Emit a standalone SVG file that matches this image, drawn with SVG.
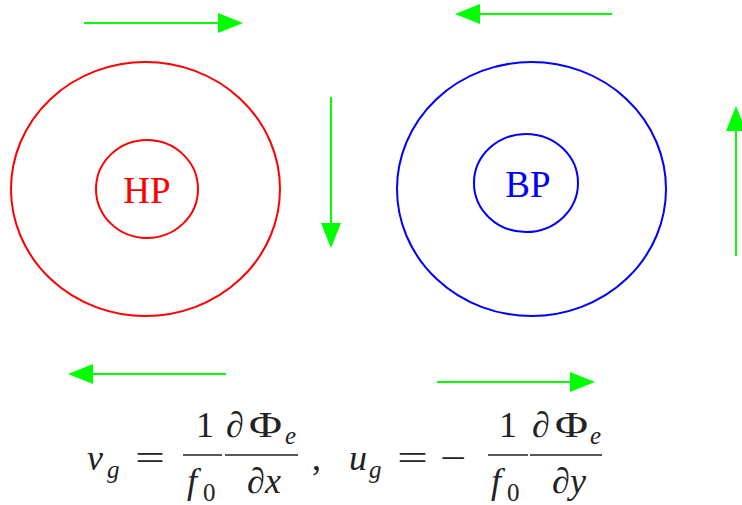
<svg xmlns="http://www.w3.org/2000/svg" width="742" height="505" viewBox="0 0 742 505">
<style>
.arr{stroke:#00ff00;stroke-width:2;fill:none;marker-end:url(#ah)}
.red{stroke:#ff0000;stroke-width:2;fill:none}
.blue{stroke:#0000ff;stroke-width:2;fill:none}
.lbl{font-family:"Liberation Serif",serif;font-size:37px;text-anchor:middle}
.m{font-family:"Liberation Serif",serif;font-size:36px;fill:#222}
.i{font-style:italic}
.s{font-size:25px}
.bar{stroke:#222;stroke-width:1.3}
</style>
<defs>
<marker id="ah" viewBox="0 -10 25 20" refX="0" refY="0" markerWidth="25" markerHeight="20" markerUnits="userSpaceOnUse" orient="auto">
<path d="M0,-10 L25,0 L0,10 z" fill="#00ff00"/>
</marker>
</defs>
<g id="HP">
<ellipse class="red" cx="145.5" cy="189" rx="134.5" ry="127"/>
<ellipse class="red" cx="147" cy="189" rx="51" ry="49"/>
<text class="lbl" x="147" y="203" fill="#ff0000">HP</text>
</g>
<g id="BP">
<ellipse class="blue" cx="531.5" cy="189" rx="134.5" ry="127"/>
<ellipse class="blue" cx="526" cy="183" rx="52" ry="49"/>
<text class="lbl" x="528" y="197" fill="#0000ff">BP</text>
</g>
<g id="connectors">
<line class="arr" x1="84" y1="23" x2="218" y2="23"/>
<line class="arr" x1="612" y1="14" x2="480" y2="14"/>
<line class="arr" x1="331" y1="97" x2="331" y2="223"/>
<line class="arr" x1="736" y1="256" x2="736" y2="131"/>
<line class="arr" x1="226" y1="374" x2="93" y2="374"/>
<line class="arr" x1="437" y1="382" x2="570" y2="382"/>
</g>
<g id="formula">
<text class="m i" x="87" y="470">v</text>
<text class="m i s" x="107" y="478">g</text>
<text class="m" x="135" y="470" textLength="30" lengthAdjust="spacingAndGlyphs">=</text>
<text class="m" x="205" y="437" text-anchor="middle">1</text>
<line class="bar" x1="183" y1="455" x2="222" y2="455"/>
<text class="m i" x="187" y="493">f</text>
<text class="m s" x="203" y="501">0</text>
<text class="m i" x="226" y="437">∂</text>
<text class="m" x="249" y="437" textLength="33" lengthAdjust="spacingAndGlyphs">Φ</text>
<text class="m i s" x="285" y="444">e</text>
<line class="bar" x1="225" y1="455" x2="298" y2="455"/>
<text class="m i" x="264" y="493" text-anchor="middle">∂x</text>
<text class="m" x="312" y="470">,</text>
<text class="m i" x="349" y="470">u</text>
<text class="m i s" x="369" y="478">g</text>
<text class="m" x="397" y="470" textLength="31" lengthAdjust="spacingAndGlyphs">=</text>
<text class="m" x="440" y="470" textLength="26" lengthAdjust="spacingAndGlyphs">−</text>
<text class="m" x="508" y="437" text-anchor="middle">1</text>
<line class="bar" x1="488" y1="455" x2="528" y2="455"/>
<text class="m i" x="491" y="493">f</text>
<text class="m s" x="507" y="501">0</text>
<text class="m i" x="532" y="437">∂</text>
<text class="m" x="555" y="437" textLength="33" lengthAdjust="spacingAndGlyphs">Φ</text>
<text class="m i s" x="590" y="444">e</text>
<line class="bar" x1="530" y1="455" x2="602" y2="455"/>
<text class="m i" x="569" y="493" text-anchor="middle">∂y</text>
</g>
</svg>
